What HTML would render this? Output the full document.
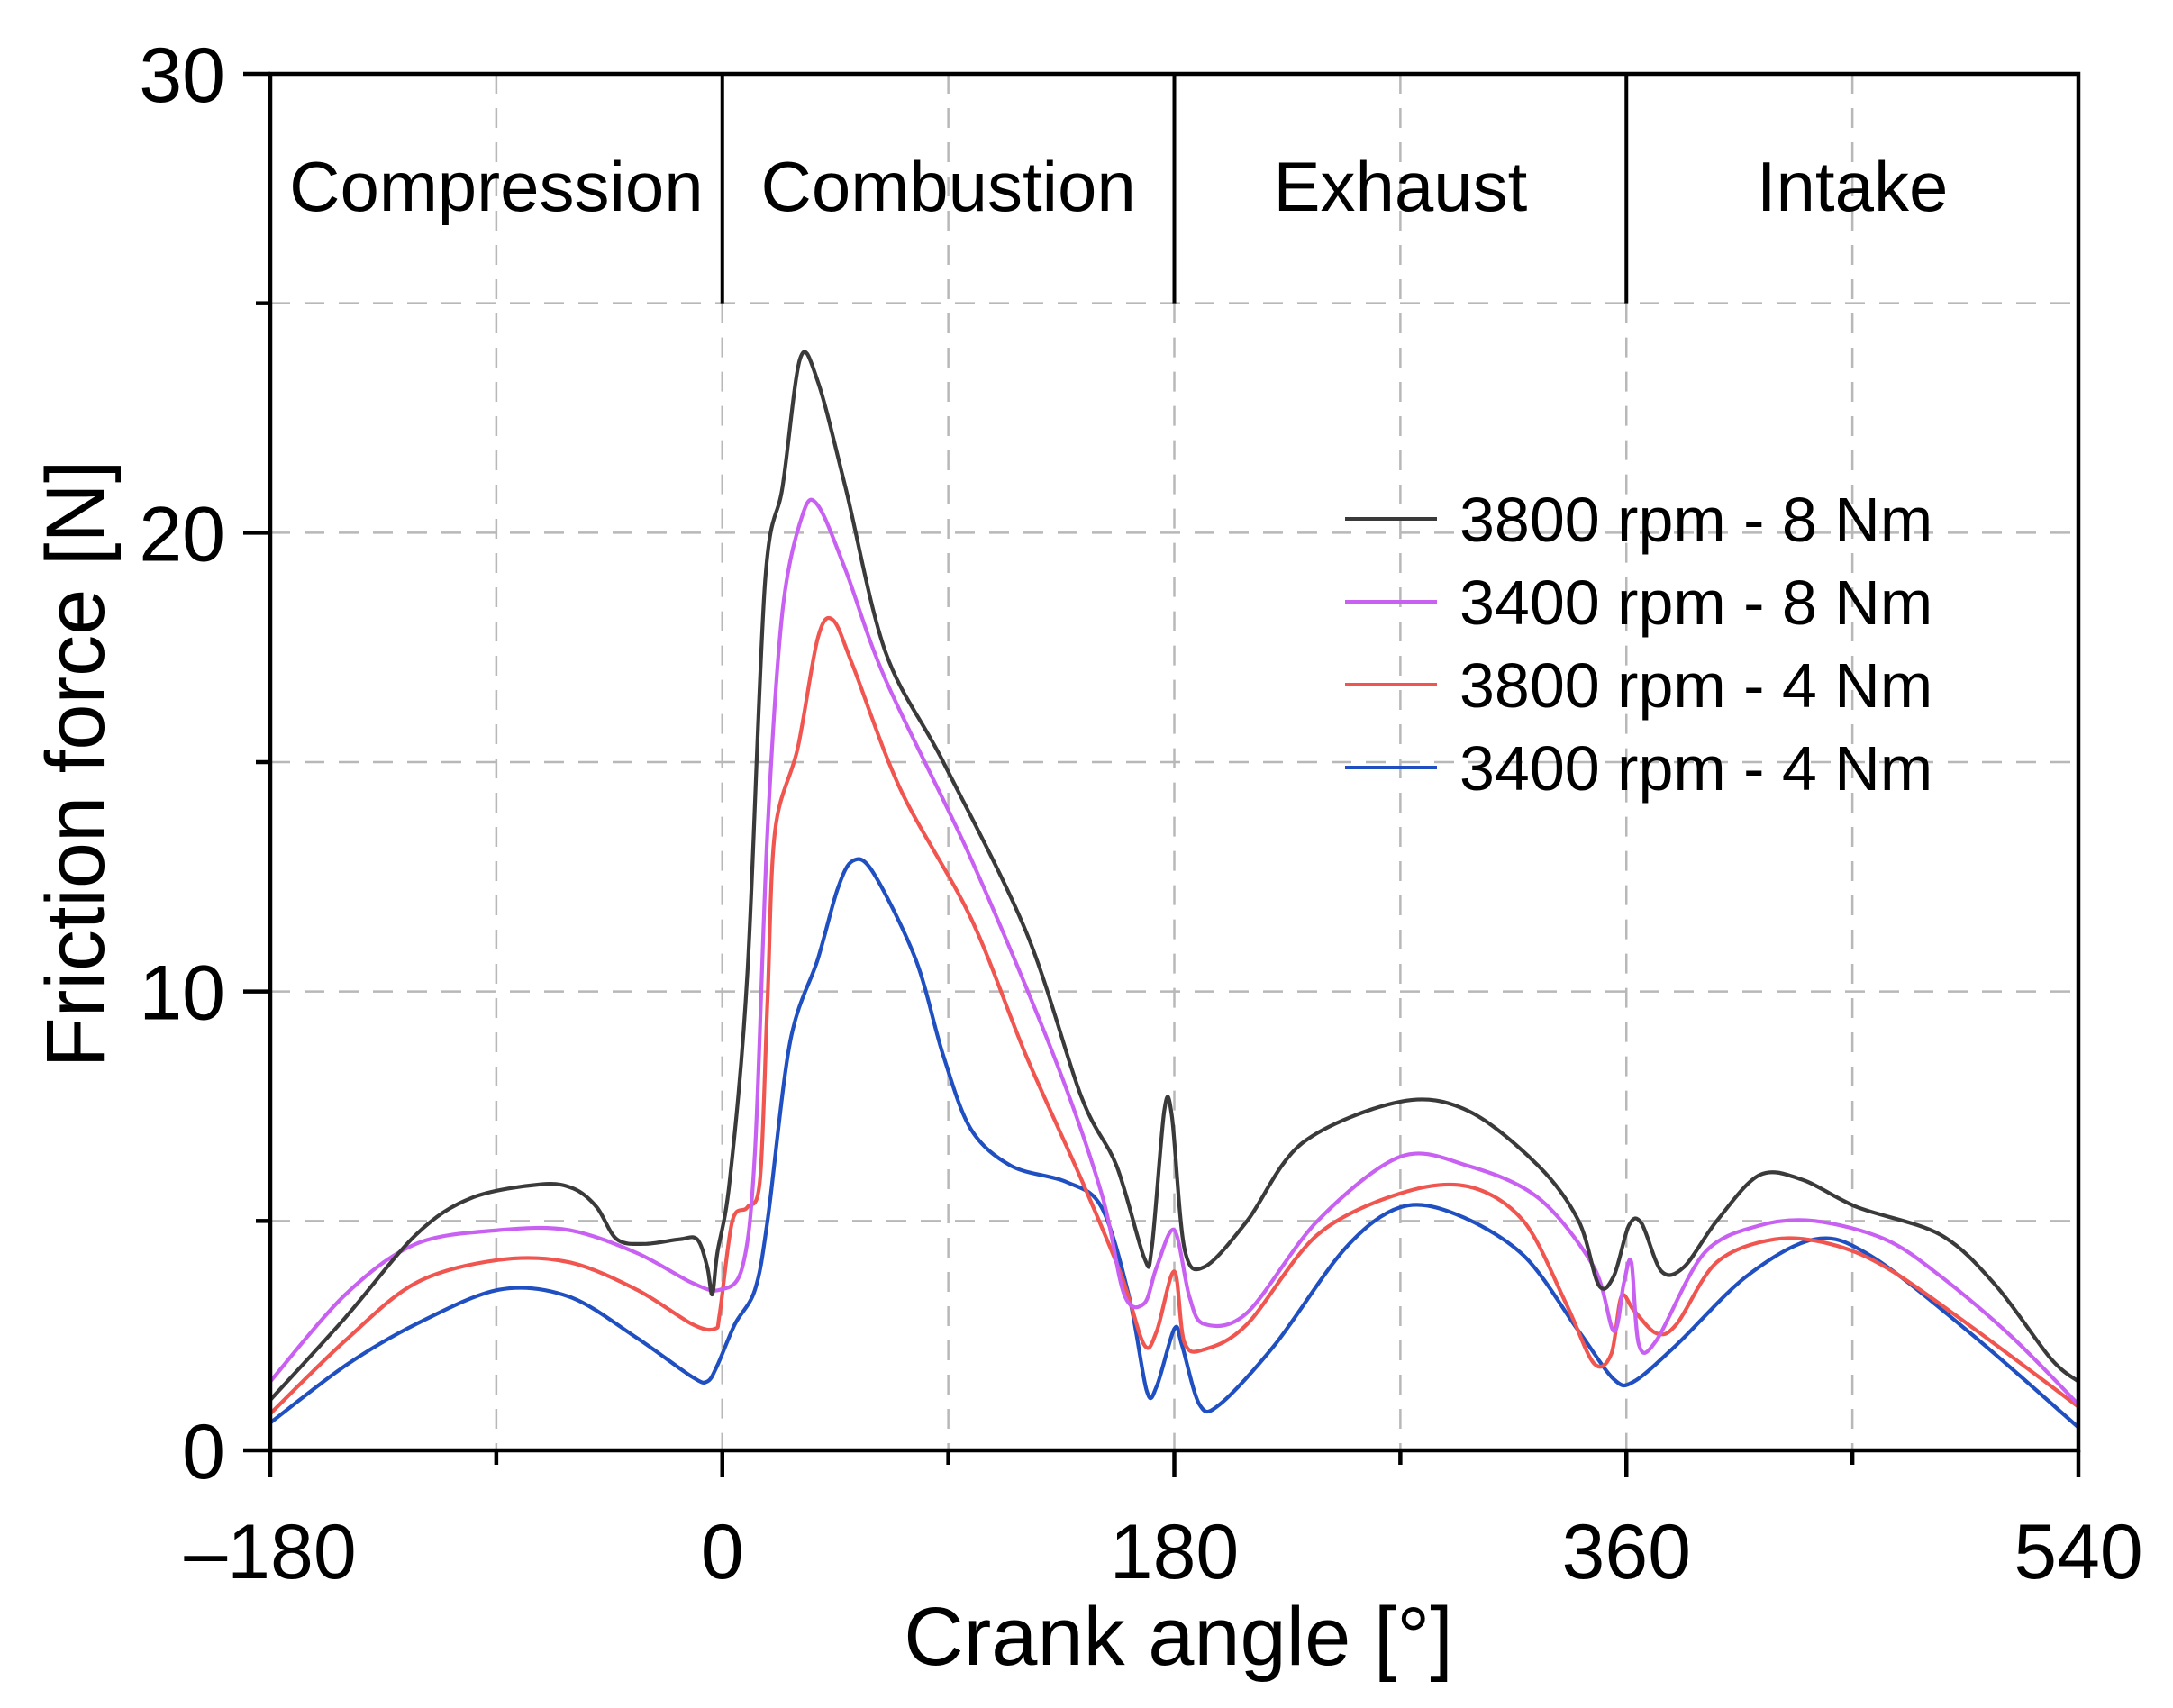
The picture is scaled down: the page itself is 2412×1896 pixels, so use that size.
<!DOCTYPE html>
<html><head><meta charset="utf-8"><style>
html,body{margin:0;padding:0;background:#fff;}
svg{display:block;font-family:"Liberation Sans",Arial,sans-serif;}
</style></head><body>
<svg id="chart" width="2412" height="1896" viewBox="0 0 2412 1896" xmlns="http://www.w3.org/2000/svg">
<g id="grid"></g>
<g id="phases"></g>
<g id="series"></g>
<g id="axes"></g>
<g id="legend"></g>
<text x="1308" y="1848" font-size="92" text-anchor="middle">Crank angle [°]</text>
<text transform="translate(115,848) rotate(-90)" font-size="92" text-anchor="middle">Friction force [N]</text>
</svg>
<script>
const xTicks = [-180, 0, 180, 360, 540];
const xTickLabels = ["\u2013180", "0", "180", "360", "540"];
const yTicks = [0, 10, 20, 30];
const yTickLabels = ["0", "10", "20", "30"];
const phaseNames = ["Compression", "Combustion", "Exhaust", "Intake"];
const phaseStarts = [-180, 0, 180, 360];
const seriesNames = ["3800 rpm - 8 Nm", "3400 rpm - 8 Nm", "3800 rpm - 4 Nm", "3400 rpm - 4 Nm"];
const seriesColors = ["#3a3a3a", "#c860f2", "#f05550", "#1f4fc0"];
const angles8800 = [-180,-150,-122,-100,-72,-59,-50,-42,-31,-17,-10,-6,-4,-2,3,10,17,24,31,38,49,65,88,121,143,157,168,171,176,179,184,192,209,231,270,297,325,341,349,355,361,366,374,383,396,413,430,452,485,507,529,540];
const force8800 = [1.1,2.9,4.7,5.5,5.8,5.7,5.3,4.6,4.5,4.6,4.6,4.0,3.4,4.3,5.9,10.4,18.9,21.0,23.8,23.3,21.0,17.4,15.0,11.3,7.7,6.2,4.2,4.4,7.4,7.3,4.4,4.0,5.0,6.7,7.6,7.4,6.2,5.0,3.6,3.8,4.9,4.95,3.9,4.0,5.0,6.0,5.9,5.3,4.7,3.6,2.0,1.5];
const angles3408 = [-180,-150,-122,-89,-61,-34,-12,-1,8,13,18,24,32,38,49,65,99,132,151,160,168,173,180,186,192,209,237,270,297,325,347,355,359,362,365,372,391,413,435,463,485,513,540];
const force3408 = [1.5,3.4,4.5,4.8,4.8,4.3,3.65,3.5,4.0,6.5,13.5,18.3,20.4,20.6,19.2,16.8,12.9,8.6,5.6,3.4,3.2,4.0,4.8,3.35,2.75,3.0,5.0,6.4,6.2,5.5,4.0,2.6,3.65,4.1,2.3,2.4,4.3,4.9,5.0,4.6,3.8,2.5,1.0];
const angles3804 = [-180,-150,-122,-89,-61,-34,-12,-3,-1,4,10,15,18,21,30,38,44,52,71,99,121,143,159,168,173,180,184,192,209,237,270,297,319,336,347,354,358,363,372,380,396,419,441,463,496,540];
const force3804 = [0.8,2.4,3.65,4.15,4.1,3.5,2.75,2.65,3.0,5.0,5.3,5.9,9.8,13.5,15.3,17.7,18.1,17.1,14.4,11.6,8.6,5.9,3.8,2.3,2.6,3.9,2.35,2.2,2.75,4.7,5.6,5.75,5.0,3.2,1.9,2.1,3.35,3.05,2.55,2.75,4.1,4.6,4.5,4.0,2.75,0.95];
const angles3404 = [-180,-150,-122,-89,-61,-34,-12,-6,-2,5,13,18,27,38,46,52,60,77,88,99,115,137,151,162,169,173,180,183,190,198,220,248,270,292,319,341,355,363,380,408,435,457,496,540];
const force3404 = [0.6,1.85,2.75,3.5,3.35,2.45,1.6,1.5,1.85,2.75,3.5,5.0,8.9,10.7,12.25,12.85,12.6,10.7,8.6,7.0,6.2,5.85,5.3,3.35,1.3,1.4,2.65,2.3,1.0,1.0,2.3,4.4,5.3,5.15,4.25,2.6,1.55,1.5,2.3,3.8,4.6,4.25,2.6,0.5];

const NS = "http://www.w3.org/2000/svg";
const X0 = 300, X1 = 2307, Y0 = 1610, Y1 = 82;
function xs(v){ return X0 + (v + 180) / 720 * (X1 - X0); }
function ys(v){ return Y0 - v / 30 * (Y0 - Y1); }
function mk(tag, attrs, parent){ const e = document.createElementNS(NS, tag); for (const k in attrs) e.setAttribute(k, attrs[k]); parent.appendChild(e); return e; }

const grid = document.getElementById('grid');
for (let v = -90; v < 540; v += 90) {
  const ln = mk('line', {x1: xs(v), x2: xs(v), y1: (v % 180 === 0 ? ys(25) : Y1), y2: Y0, stroke: '#b8b8b8', 'stroke-width': 2.5, 'stroke-dasharray': '22,16'}, grid);
  
  
}
for (let v = 5; v < 30; v += 5) {
  const ln = mk('line', {x1: X0, x2: X1, y1: ys(v), y2: ys(v), stroke: '#b8b8b8', 'stroke-width': 2.5, 'stroke-dasharray': '22,16'}, grid);
  
  
}

const phases = document.getElementById('phases');
phaseStarts.forEach((s, i) => {
  if (i > 0) {
    const d = mk('line', {x1: xs(s), x2: xs(s), y1: Y1, y2: ys(25), stroke: '#000', 'stroke-width': 4}, phases);
    
    
  }
  const t = mk('text', {x: xs(s + 90), y: 234, 'font-size': 78, 'text-anchor': 'middle', fill: '#000'}, phases);
  t.textContent = phaseNames[i];
  
  
});

function smoothPath(xa, ya){
  const p = xa.map((x, i) => [xs(x), ys(ya[i])]);
  let d = 'M' + p[0][0].toFixed(1) + ',' + p[0][1].toFixed(1);
  for (let i = 0; i < p.length - 1; i++) {
    const p0 = p[i > 0 ? i - 1 : i], p1 = p[i], p2 = p[i + 1], p3 = p[i + 2 < p.length ? i + 2 : i + 1];
    const t = 0.16;
    const c1 = [p1[0] + (p2[0] - p0[0]) * t, p1[1] + (p2[1] - p0[1]) * t];
    const c2 = [p2[0] - (p3[0] - p1[0]) * t, p2[1] - (p3[1] - p1[1]) * t];
    d += ' C' + c1[0].toFixed(1) + ',' + c1[1].toFixed(1) + ' ' + c2[0].toFixed(1) + ',' + c2[1].toFixed(1) + ' ' + p2[0].toFixed(1) + ',' + p2[1].toFixed(1);
  }
  return d;
}
const seriesG = document.getElementById('series');
const allX = [angles8800, angles3408, angles3804, angles3404];
const allY = [force8800, force3408, force3804, force3404];
const slugs = ['line-3800rpm-8nm', 'line-3400rpm-8nm', 'line-3800rpm-4nm', 'line-3400rpm-4nm'];
for (let k = 3; k >= 0; k--) {
  const pth = mk('path', {d: smoothPath(allX[k], allY[k]), fill: 'none', stroke: seriesColors[k], 'stroke-width': 4.2, 'stroke-linejoin': 'round'}, seriesG);
  
  
}

const axes = document.getElementById('axes');
const frame = mk('rect', {x: X0, y: Y1, width: X1 - X0, height: Y0 - Y1, fill: 'none', stroke: '#000', 'stroke-width': 4.5}, axes);


for (let v = -180; v <= 540; v += 90) {
  const tk = mk('line', {x1: xs(v), x2: xs(v), y1: Y0, y2: Y0 + (v % 180 === 0 ? 30 : 16), stroke: '#000', 'stroke-width': 4.5}, axes);
  
  
}
xTicks.forEach((v, i) => {
  const t = mk('text', {x: xs(v), y: 1752, 'font-size': 86, 'text-anchor': 'middle'}, axes);
  t.textContent = xTickLabels[i];
  
  
});
for (let v = 0; v <= 30; v += 5) {
  const tk = mk('line', {x1: X0 - (v % 10 === 0 ? 30 : 16), x2: X0, y1: ys(v), y2: ys(v), stroke: '#000', 'stroke-width': 4.5}, axes);
  
  
}
yTicks.forEach((v, i) => {
  const t = mk('text', {x: 250, y: ys(v) + 31, 'font-size': 86, 'text-anchor': 'end'}, axes);
  t.textContent = yTickLabels[i];
  
  
});

const legend = document.getElementById('legend');
seriesNames.forEach((n, i) => {
  const y = 576 + i * 92;
  const g = mk('g', {}, legend);
  
  
  mk('line', {x1: 1493, x2: 1595, y1: y, y2: y, stroke: seriesColors[i], 'stroke-width': 4}, g);
  const t = mk('text', {x: 1620, y: y + 25, 'font-size': 70}, g);
  t.textContent = n;
});
</script>
</body></html>
